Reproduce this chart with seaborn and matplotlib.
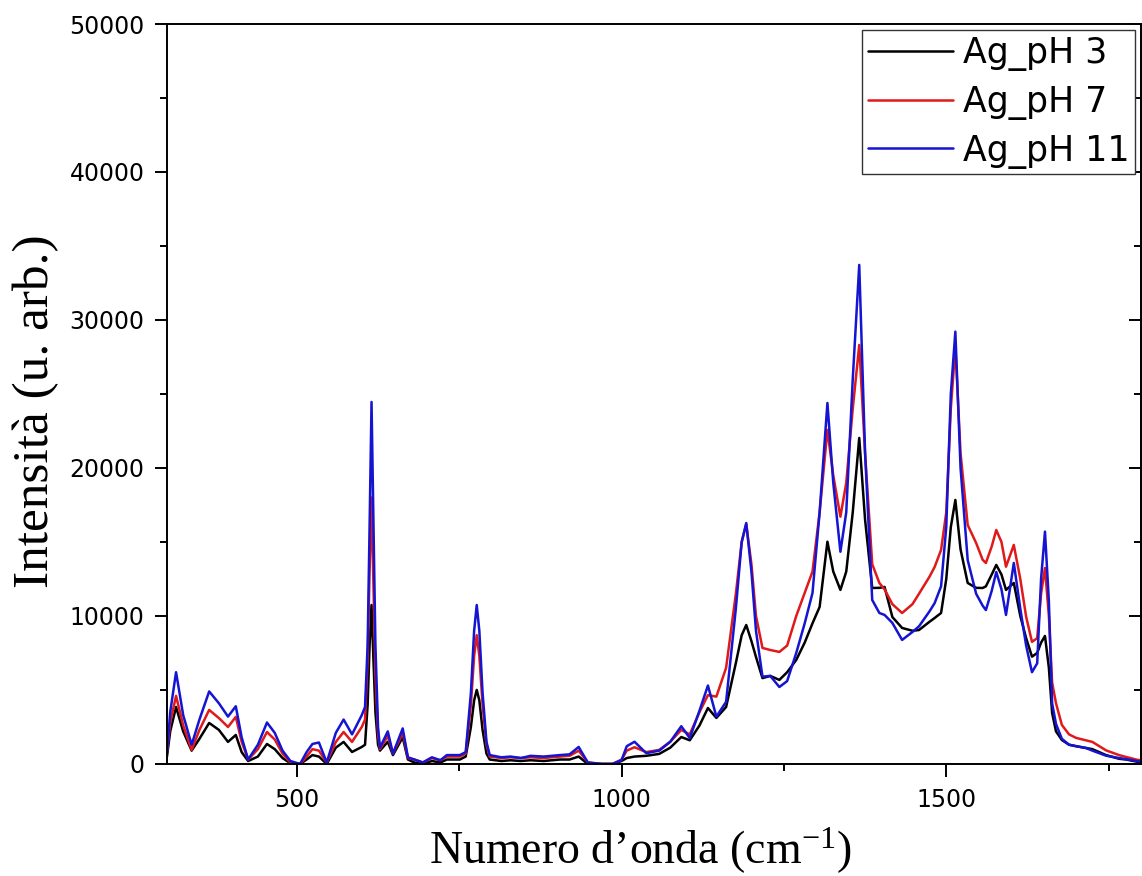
import numpy as np
import pandas as pd
import matplotlib.pyplot as plt
import seaborn as sns
from matplotlib.ticker import MultipleLocator

# spettri SERS (numero d'onda in cm-1, intensita' in u. arb.)
wavenumber = [300, 305, 314, 325, 338, 350, 365, 380, 394, 406, 415,
              425, 440, 454, 466, 478, 490, 505, 515, 524, 534, 546, 560, 572, 585, 600,
              605, 609, 612, 615, 618, 621, 625, 628, 640, 648, 663, 671,
              681, 694, 708, 721, 731, 751, 760, 768, 773, 777, 781, 786, 792, 797,
              815, 829, 845, 860, 880, 905, 920, 934, 948, 970, 986, 1000, 1008, 1020, 1038, 1058,
              1075, 1092, 1105, 1120, 1133, 1146, 1161, 1176, 1185, 1192, 1200, 1207,
              1217, 1229, 1243, 1255, 1269, 1282, 1294, 1305, 1317, 1326, 1337,
              1346, 1356, 1366, 1375, 1386, 1397, 1405, 1417, 1432, 1448, 1458,
              1474, 1482, 1492, 1500, 1507, 1514, 1522, 1533, 1546, 1556, 1561, 1570, 1577,
              1585, 1592, 1604, 1614, 1623, 1632, 1640, 1646, 1652, 1658, 1663, 1669, 1678,
              1689, 1700, 1715, 1725, 1746, 1766, 1777, 1794, 1800]

ag_ph3 = [500, 2200, 3850, 2200, 900, 1700, 2770, 2300, 1490, 1960, 800,
          200, 500, 1350, 1000, 400, 50, 0, 300, 600, 500, 0, 1100, 1490, 810, 1150,
          1300, 4000, 8000, 10740, 7000, 3500, 1300, 900, 1500, 600, 1800, 300,
          100, 0, 200, 100, 300, 300, 500, 2500, 4300, 5000, 4300, 2300, 700, 300,
          200, 250, 200, 250, 200, 300, 300, 500, 0, 0, 0, 200, 400, 500, 550, 680,
          1100, 1820, 1600, 2600, 3780, 3110, 3850, 6820, 8700, 9390, 8300, 7230,
          5800, 5950, 5680, 6200, 7030, 8200, 9500, 10610, 15020, 13000, 11760,
          13000, 17000, 22030, 16500, 11890, 11900, 11960, 9930, 9190, 9000, 9050,
          9600, 9860, 10200, 12500, 16000, 17840, 14500, 12230, 11900, 11890, 12000, 12800, 13450,
          12800, 11760, 12230, 10000, 8500, 7250, 7500, 8200, 8650, 6500, 3450, 2200, 1620,
          1300, 1200, 1080, 1000, 600, 350, 300, 150, 120]

ag_ph7 = [800, 2800, 4600, 2600, 950, 2300, 3650, 3100, 2500, 3180, 1500,
          300, 1000, 2160, 1650, 700, 100, 0, 500, 1000, 900, 100, 1490, 2160, 1490, 2500,
          3000, 7000, 13000, 18000, 12000, 6000, 2000, 1000, 1900, 700, 2100, 400,
          300, 100, 400, 250, 500, 500, 700, 4000, 7300, 8700, 7300, 4000, 1300, 500,
          400, 450, 400, 450, 400, 500, 550, 900, 100, 0, 0, 300, 900, 1130, 800, 950,
          1500, 2300, 2000, 3500, 4650, 4550, 6500, 11500, 15000, 16200, 13500, 10000,
          7840, 7700, 7570, 8000, 10000, 11550, 13000, 17000, 22570, 19500, 16710,
          19000, 24000, 28310, 21000, 13500, 12230, 11800, 10800, 10200, 10800, 11500,
          12640, 13300, 14460, 17000, 24000, 28200, 21000, 16150, 14930, 13800, 13580, 14700, 15810,
          15000, 13330, 14800, 12500, 9950, 8250, 8500, 11500, 13240, 10000, 5500, 4100, 2640,
          2000, 1760, 1600, 1490, 920, 600, 470, 280, 250]

ag_ph11 = [700, 3500, 6200, 3300, 1300, 3000, 4900, 4100, 3200, 3900, 1800,
           300, 1300, 2800, 2100, 900, 200, 0, 800, 1350, 1450, 100, 2100, 3000, 2000, 3300,
           3850, 8000, 16000, 24460, 16000, 8000, 2500, 1100, 2200, 700, 2400, 450,
           300, 100, 450, 250, 600, 600, 800, 4800, 9000, 10740, 9000, 4800, 1500, 600,
           450, 500, 400, 550, 500, 600, 650, 1150, 100, 0, 0, 250, 1200, 1500, 730, 900,
           1500, 2550, 1750, 3600, 5300, 3200, 4200, 10500, 15000, 16280, 13000, 9000,
           5900, 5950, 5200, 5600, 7500, 9500, 11550, 17000, 24390, 19000, 14340,
           17000, 26000, 33720, 21000, 11080, 10200, 10070, 9530, 8380, 8920, 9300,
           10300, 10860, 12000, 16000, 25000, 29210, 20000, 13780, 11500, 10700, 10400, 11700, 12970,
           11800, 10070, 13580, 10500, 8000, 6200, 6800, 12500, 15700, 11000, 4100, 2700, 1700,
           1300, 1200, 1080, 900, 560, 400, 320, 200, 150]

series_names = ['Ag_pH 3', 'Ag_pH 7', 'Ag_pH 11']
series_colors = ['#000000', '#e0191b', '#1414d2']

assert len(wavenumber) == len(ag_ph3) == len(ag_ph7) == len(ag_ph11)

df = pd.DataFrame({
    'wn': wavenumber * 3,
    'I': ag_ph3 + ag_ph7 + ag_ph11,
    'campione': np.repeat(series_names, len(wavenumber)),
})

sns.set_style('ticks')
plt.rcParams['font.family'] = ['DejaVu Sans']
plt.rcParams['mathtext.fontset'] = 'custom'
plt.rcParams['mathtext.rm'] = 'Liberation Serif'
plt.rcParams['mathtext.it'] = 'Liberation Serif'

fig = plt.figure(figsize=(11.42, 8.76), dpi=100)
ax = fig.add_axes([0.1462, 0.1279, 0.853, 0.8447])

sns.lineplot(data=df, x='wn', y='I', hue='campione', palette=series_colors,
             hue_order=series_names, linewidth=1.8, estimator=None, ax=ax)

ax.set_xlim(300, 1800)
ax.set_ylim(0, 50000)
ax.xaxis.set_major_locator(MultipleLocator(500))
ax.xaxis.set_minor_locator(MultipleLocator(250))
ax.yaxis.set_major_locator(MultipleLocator(10000))
ax.yaxis.set_minor_locator(MultipleLocator(5000))
ax.tick_params(which='major', direction='out', length=9, width=1.4,
               labelsize=17, labelcolor='black', color='black', top=False, right=False)
ax.tick_params(which='minor', direction='out', length=5, width=1.4,
               color='black', top=False, right=False)
ax.tick_params(axis='y', which='major', pad=7)
ax.tick_params(axis='x', which='major', pad=8)

# tacche interne sul lato destro
sec = ax.secondary_yaxis('right')
sec.yaxis.set_major_locator(MultipleLocator(10000))
sec.yaxis.set_minor_locator(MultipleLocator(5000))
sec.tick_params(which='major', direction='in', length=9, width=1.4, labelright=False, color='black')
sec.tick_params(which='minor', direction='in', length=5, width=1.4, labelright=False, color='black')
sec.spines['right'].set_linewidth(1.4)

for s in ax.spines.values():
    s.set_linewidth(1.4)
    s.set_color('black')

ax.set_xlabel('Numero d’onda (cm$^{-1}$)', fontsize=33, family='Liberation Serif', color='black')
ax.set_ylabel('Intensità (u. arb.)', fontsize=37, family='Liberation Serif', color='black')
ax.xaxis.set_label_coords(0.4856, -0.0838)
ax.yaxis.set_label_coords(-0.111, 0.477)

handles, labels = ax.get_legend_handles_labels()
leg = ax.legend(handles, labels, loc='upper right', fontsize=25, frameon=True,
                fancybox=False, edgecolor='#333333', framealpha=1,
                borderaxespad=0.17, borderpad=0.17, handlelength=2.45,
                handletextpad=0.29, labelspacing=0.4)
leg.get_frame().set_linewidth(1.0)
for line in leg.get_lines():
    line.set_linewidth(1.8)
for t in leg.get_texts():
    t.set_color('black')

fig.savefig('out.png', dpi=100)
